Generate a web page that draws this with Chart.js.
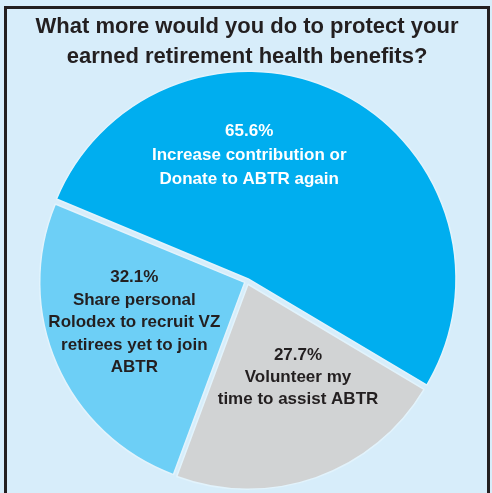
<!DOCTYPE html>
<html>
<head>
<meta charset="utf-8">
<script src="https://cdn.jsdelivr.net/npm/chart.js@4.4.0/dist/chart.umd.min.js"></script>
<style>
  html, body { margin: 0; padding: 0; background: #d7edfa; overflow: hidden; }
  #frame {
    position: absolute; left: 4px; top: 6px; width: 486px; height: 500px;
    box-sizing: border-box; border: 3px solid #231f20; border-bottom: none;
  }
  #wrap { position: absolute; left: 0; top: 0; width: 492px; height: 493px; }
</style>
</head>
<body>
<div id="frame"></div>
<div id="wrap"><canvas id="PieChart"></canvas></div>
<script>
// Survey answers, in clockwise order starting at the upper left
const answers = [
  ["Increase contribution or", "Donate to ABTR again"],
  ["Volunteer my", "time to assist ABTR"],
  ["Share personal", "Rolodex to recruit VZ", "retirees yet to join", "ABTR"]
];
const percents = [65.6, 27.7, 32.1];
const titleLines = ["What more would you do to protect your", "earned retirement health benefits?"];

// Where each label sits: angle from top (deg, clockwise) and fraction of the radius
const labelSpots = [[1, 0.615], [152, 0.53], [250, 0.585]];
const labelColors = ["#ffffff", "#231f20", "#231f20"];
const lineGaps = [24, 22, 22.5];

// Small plugin that writes the percentage and the answer inside each slice
const sliceLabels = {
  id: "sliceLabels",
  afterDatasetsDraw(chart) {
    const ctx = chart.ctx;
    const arcs = chart.getDatasetMeta(0).data;
    ctx.save();
    ctx.font = "bold 17px 'Liberation Sans', Arial, sans-serif";
    ctx.textAlign = "center";
    ctx.textBaseline = "middle";
    arcs.forEach((arc, i) => {
      const ang = (labelSpots[i][0] - 90) * Math.PI / 180;
      const r = arc.outerRadius * labelSpots[i][1];
      const cx = arc.x + Math.cos(ang) * r;
      const cy = arc.y + Math.sin(ang) * r;
      const lines = [percents[i].toFixed(1) + "%", ...answers[i]];
      const lh = lineGaps[i];
      const top = cy - (lines.length - 1) * lh / 2;
      ctx.fillStyle = labelColors[i];
      lines.forEach((t, k) => ctx.fillText(t, cx, top + k * lh));
    });
    ctx.restore();
  }
};

const chartPie = new Chart(document.getElementById("PieChart").getContext("2d"), {
  type: "pie",
  data: {
    labels: answers.map(a => a.join(" ")),
    datasets: [{
      data: percents,
      backgroundColor: ["#00aeef", "#d1d3d4", "#6dcff6"],
      borderColor: "#e2f3fc",
      borderWidth: 1.5,
      offset: [11, 12, 10]
    }]
  },
  options: {
    responsive: true,
    maintainAspectRatio: false,
    animation: false,
    rotation: -67.5,
    radius: 205,
    layout: { padding: { top: 8, left: 2, right: 0, bottom: 2 } },
    plugins: {
      legend: { display: false },
      tooltip: { enabled: false },
      title: {
        display: true,
        text: titleLines,
        color: "#231f20",
        font: { family: "'Liberation Sans', Arial, sans-serif", size: 22, weight: "bold", lineHeight: 1.36 },
        padding: { top: 4, bottom: 0 }
      }
    }
  },
  plugins: [sliceLabels]
});
</script>
</body>
</html>
